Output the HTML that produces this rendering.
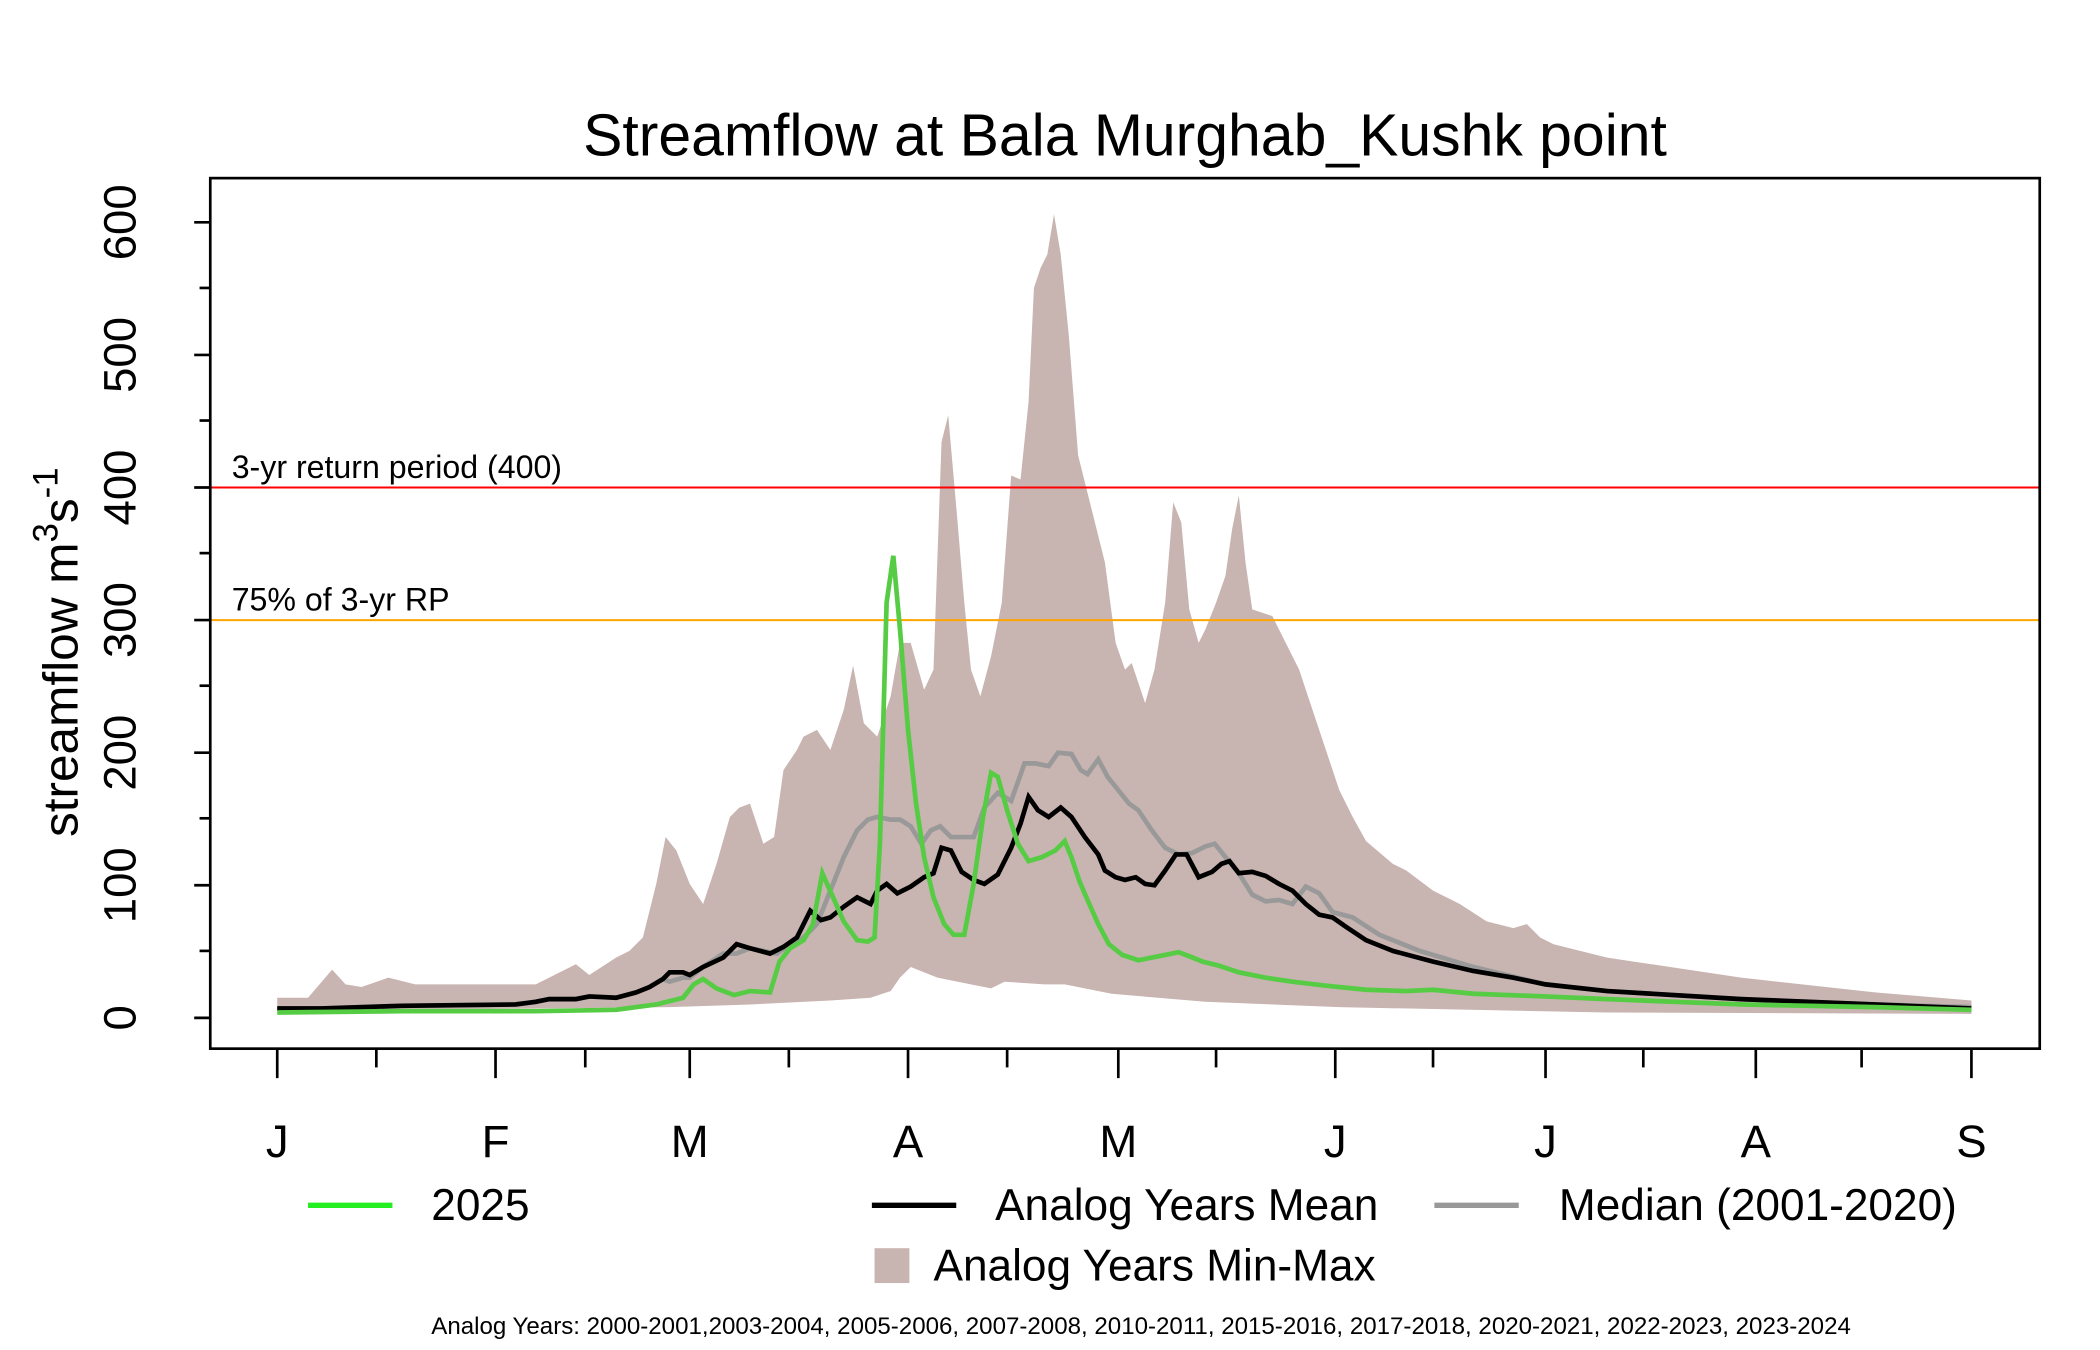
<!DOCTYPE html>
<html><head><meta charset="utf-8"><style>
html,body{margin:0;padding:0;background:#fff;}
svg{display:block;font-family:"Liberation Sans",sans-serif;}
</style></head><body>
<svg width="2100" height="1350" viewBox="0 0 1568 1008" preserveAspectRatio="none" xmlns="http://www.w3.org/2000/svg">
<rect width="1568" height="1008" fill="#fff"/>
<text x="840" y="116" font-size="44" text-anchor="middle" fill="#000">Streamflow at Bala Murghab_Kushk point</text>
<polygon fill="#c8b4b0" points="207,745 230,745 248,724 258,735 270,737 290,730 310,735 400,735 430,720 440,728 460,715 470,710 480,700 490,660 497,625 505,635 515,660 525,675 535,645 545,610 552,603 560,600 570,630 578,625 585,575 595,560 600,550 610,545 620,560 630,530 637,497 645,540 655,550 665,520 672,480 680,480 690,515 697,500 703,330 708,310 715,390 720,450 725,500 732,520 740,490 748,450 755,355 762,358 768,300 772,215 777,200 782,190 787,160 792,190 798,250 805,340 815,380 825,420 833,480 840,500 845,495 850,510 855,525 862,500 870,450 876,375 882,390 888,455 895,480 900,470 908,450 915,430 920,395 925,370 930,420 935,455 950,460 960,480 970,500 980,530 990,560 1000,590 1010,610 1020,628 1040,645 1050,650 1070,665 1090,675 1110,688 1130,693 1140,690 1150,700 1160,705 1200,715 1300,730 1400,741 1472,747 1472,757 1200,756 1000,752 900,748 830,742 795,735 780,735 750,733 740,738 730,736 700,730 680,722 672,730 665,740 650,745 620,747 560,750 500,752 207,755"/>
<line x1="157" y1="364" x2="1523" y2="364" stroke="#f00" stroke-width="1.5"/>
<line x1="157" y1="463" x2="1523" y2="463" stroke="#ffa500" stroke-width="1.5"/>
<text x="173" y="357" font-size="24">3-yr return period (400)</text>
<text x="173" y="456" font-size="24">75% of 3-yr RP</text>
<polyline fill="none" stroke="#999" stroke-width="3.5" points="207,753 240,753 300,751 385,750 400,748 410,746 430,746 440,744 460,745 475,741 485,737 495,731 500,733 510,730 515,730 525,722 540,712 550,712 560,708 580,712 590,705 600,700 610,690 620,665 630,640 640,620 648,612 655,610 665,612 672,612 680,617 688,630 695,620 702,617 710,625 720,625 727,625 735,603 745,592 755,598 765,570 773,570 783,572 790,562 800,563 807,575 812,578 820,567 827,580 835,590 843,600 850,605 860,620 870,633 880,638 890,637 900,632 907,630 915,640 925,652 935,668 945,673 955,672 965,675 975,662 985,667 995,681 1010,685 1030,698 1060,710 1100,722 1154,735 1200,740 1300,746 1400,750 1472,752"/>
<polyline fill="none" stroke="#000" stroke-width="3.5" points="207,753 240,753 300,751 385,750 400,748 410,746 430,746 440,744 460,745 475,741 485,737 495,731 500,726 510,726 515,728 525,722 540,715 550,705 560,708 575,712 585,707 595,700 605,680 613,687 620,685 630,677 640,670 650,675 655,665 662,660 670,667 680,662 690,655 697,652 703,633 710,635 718,651 727,657 735,660 745,653 755,633 762,615 768,595 775,605 783,610 792,603 800,610 810,625 820,638 825,650 833,655 840,657 848,655 855,660 862,661 870,650 878,638 886,638 895,655 905,651 912,645 918,643 925,652 935,651 945,654 955,660 965,665 975,675 985,683 995,685 1005,692 1020,702 1040,710 1070,718 1100,725 1130,730 1154,735 1200,740 1300,746 1400,750 1472,753"/>
<polyline fill="none" stroke="#55cc44" stroke-width="3.5" points="207,756 300,755 400,755 460,754 490,750 510,745 518,735 525,731 535,738 548,743 560,740 575,741 582,718 590,708 600,702 607,690 614,652 622,670 630,688 640,702 648,703 653,700 657,630 662,450 667,415 672,470 678,545 684,600 690,640 697,670 705,690 712,698 720,698 727,660 734,610 740,577 745,580 752,605 760,630 768,643 778,640 788,635 795,628 800,640 806,658 812,672 820,690 828,705 838,713 850,717 860,715 870,713 880,711 888,714 898,718 910,721 925,726 945,730 965,733 990,736 1020,739 1050,740 1070,739 1100,742 1154,744 1200,746 1300,750 1400,752 1472,754"/>
<rect x="157" y="133" width="1366" height="650" fill="none" stroke="#000" stroke-width="2"/>
<g stroke="#000" stroke-width="2">
<line x1="157" y1="760" x2="145" y2="760"/><line x1="157" y1="661" x2="145" y2="661"/><line x1="157" y1="562" x2="145" y2="562"/><line x1="157" y1="463" x2="145" y2="463"/><line x1="157" y1="364" x2="145" y2="364"/><line x1="157" y1="265" x2="145" y2="265"/><line x1="157" y1="166" x2="145" y2="166"/>
<line x1="157" y1="710" x2="149" y2="710"/><line x1="157" y1="611" x2="149" y2="611"/><line x1="157" y1="512" x2="149" y2="512"/><line x1="157" y1="413" x2="149" y2="413"/><line x1="157" y1="314" x2="149" y2="314"/><line x1="157" y1="215" x2="149" y2="215"/>
<line x1="207" y1="783" x2="207" y2="805"/><line x1="370" y1="783" x2="370" y2="805"/><line x1="515" y1="783" x2="515" y2="805"/><line x1="678" y1="783" x2="678" y2="805"/><line x1="835" y1="783" x2="835" y2="805"/><line x1="997" y1="783" x2="997" y2="805"/><line x1="1154" y1="783" x2="1154" y2="805"/><line x1="1311" y1="783" x2="1311" y2="805"/><line x1="1472" y1="783" x2="1472" y2="805"/>
<line x1="281" y1="783" x2="281" y2="797"/><line x1="437" y1="783" x2="437" y2="797"/><line x1="589" y1="783" x2="589" y2="797"/><line x1="752" y1="783" x2="752" y2="797"/><line x1="908" y1="783" x2="908" y2="797"/><line x1="1070" y1="783" x2="1070" y2="797"/><line x1="1227" y1="783" x2="1227" y2="797"/><line x1="1390" y1="783" x2="1390" y2="797"/>
</g>
<g font-size="34" text-anchor="middle">
<text transform="translate(101,760) rotate(-90)">0</text>
<text transform="translate(101,661) rotate(-90)">100</text>
<text transform="translate(101,562) rotate(-90)">200</text>
<text transform="translate(101,463) rotate(-90)">300</text>
<text transform="translate(101,364) rotate(-90)">400</text>
<text transform="translate(101,265) rotate(-90)">500</text>
<text transform="translate(101,166) rotate(-90)">600</text>
<text x="207" y="864">J</text><text x="370" y="864">F</text><text x="515" y="864">M</text><text x="678" y="864">A</text><text x="835" y="864">M</text><text x="997" y="864">J</text><text x="1154" y="864">J</text><text x="1311" y="864">A</text><text x="1472" y="864">S</text>
</g>
<text transform="translate(58,625) rotate(-90)" font-size="37">streamflow m<tspan dy="-15" font-size="26">3</tspan><tspan dy="15">s</tspan><tspan dy="-15" font-size="26">-1</tspan></text>
<g font-size="33">
<line x1="230" y1="900" x2="293" y2="900" stroke="#22ee22" stroke-width="4"/><text x="322" y="911">2025</text>
<line x1="651" y1="900" x2="714" y2="900" stroke="#000" stroke-width="4"/><text x="743" y="911">Analog Years Mean</text>
<line x1="1071" y1="900" x2="1134" y2="900" stroke="#999" stroke-width="4"/><text x="1164" y="911">Median (2001-2020)</text>
<rect x="653" y="932" width="26" height="26" fill="#c8b4b0"/><text x="697" y="956">Analog Years Min-Max</text>
</g>
<text x="852" y="996" font-size="18" text-anchor="middle">Analog Years: 2000-2001,2003-2004, 2005-2006, 2007-2008, 2010-2011, 2015-2016, 2017-2018, 2020-2021, 2022-2023, 2023-2024</text>
</svg>
</body></html>
